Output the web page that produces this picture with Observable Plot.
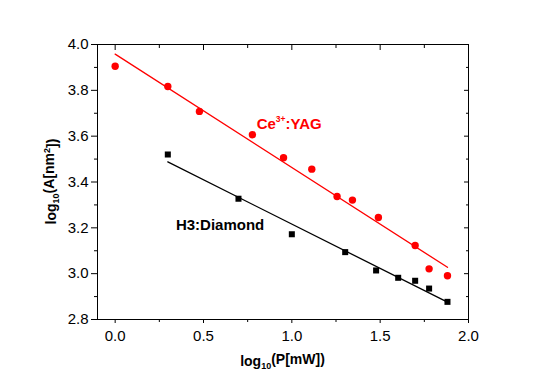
<!DOCTYPE html>
<html><head><meta charset="utf-8">
<script src="https://cdn.jsdelivr.net/npm/d3@7"></script>
<script src="https://cdn.jsdelivr.net/npm/@observablehq/plot@0.6"></script>
<style>body{margin:0;background:#fff}</style>
</head><body><div id="chart"></div>
<script>
// Ce3+:YAG (red circles)
const yagX = [0.0, 0.298, 0.477, 0.777, 0.953, 1.113, 1.256, 1.343, 1.490, 1.698, 1.777, 1.881];
const yagY = [3.905, 3.817, 3.708, 3.606, 3.506, 3.456, 3.337, 3.321, 3.245, 3.123, 3.021, 2.991];
// H3:Diamond (black squares)
const h3X = [0.298, 0.698, 1.000, 1.302, 1.477, 1.602, 1.698, 1.777, 1.881];
const h3Y = [3.520, 3.327, 3.172, 3.094, 3.014, 2.982, 2.969, 2.935, 2.877];
// ticks
const xMajor = [0, 0.5, 1.0, 1.5, 2.0];
const xMinor = [0.25, 0.75, 1.25, 1.75];
const yMajor = [2.8, 3.0, 3.2, 3.4, 3.6, 3.8, 4.0];
const yMinor = [2.9, 3.1, 3.3, 3.5, 3.7, 3.9];
// annotations
const labelText = ["Ce3+:YAG", "H3:Diamond"];
const labelX = [0.985, 0.594];
const labelY = [3.651, 3.21];
const labelColor = ["#ff0000", "#000000"];

const yag = yagX.map((x, i) => ({x, y: yagY[i]}));
const h3 = h3X.map((x, i) => ({x, y: h3Y[i]}));
const labels = labelText.map((t, i) => ({t, x: labelX[i], y: labelY[i], c: labelColor[i]}));
const blank = () => "";
const fmt = d3.format(".1f");

const chart = Plot.plot({
  width: 545, height: 383,
  marginLeft: 97, marginRight: 77, marginTop: 44, marginBottom: 64,
  style: {fontFamily: "'Liberation Sans', Arial, sans-serif", fontSize: "13px", background: "#fff", color: "#000"},
  x: {domain: [-0.1, 2.0]},
  y: {domain: [2.8, 4.0]},
  marks: [
    Plot.axisX(xMajor, {anchor: "bottom", tickSize: 4, tickPadding: 7, tickFormat: fmt, label: null, fontSize: 15}),
    Plot.axisX(xMinor, {anchor: "bottom", tickSize: 3, tickFormat: blank, label: null}),
    Plot.axisX(xMajor, {anchor: "top", tickSize: -5, tickFormat: blank, label: null}),
    Plot.axisX(xMinor, {anchor: "top", tickSize: -3, tickFormat: blank, label: null}),
    Plot.axisY(yMajor, {anchor: "left", tickSize: 6, tickPadding: 3, tickFormat: fmt, label: null, fontSize: 15}),
    Plot.axisY(yMinor, {anchor: "left", tickSize: 3, tickFormat: blank, label: null}),
    Plot.axisY(yMajor, {anchor: "right", tickSize: -5, tickFormat: blank, label: null}),
    Plot.axisY(yMinor, {anchor: "right", tickSize: -3, tickFormat: blank, label: null}),
    Plot.frame({stroke: "#000", strokeWidth: 1}),
    Plot.linearRegressionY(yag, {x: "x", y: "y", stroke: "#ff0000", strokeWidth: 1.3, ci: 0}),
    Plot.linearRegressionY(h3, {x: "x", y: "y", stroke: "#000", strokeWidth: 1.3, ci: 0}),
    Plot.dot(yag, {x: "x", y: "y", r: 3.7, fill: "#ff0000", stroke: "none"}),
    Plot.dot(h3, {x: "x", y: "y", r: 3.4, symbol: "square", fill: "#000", stroke: "none"}),
    Plot.text(labels, {x: "x", y: "y", text: "t", fill: "c", fontSize: 15, fontWeight: "bold"})
  ]
});

const svg = d3.select(chart);
// superscript in annotation
svg.selectAll("text").filter(function() { return this.textContent === "Ce3+:YAG"; })
  .each(function() {
    const t = d3.select(this);
    t.text(null);
    t.append("tspan").text("Ce");
    t.append("tspan").attr("dy", "-7px").attr("font-size", "8.5px").text("3+");
    t.append("tspan").attr("dy", "7px").text(":YAG");
  });
// axis labels
const xl = svg.append("text").attr("x", 282.5).attr("y", 366).attr("text-anchor", "middle")
  .attr("font-weight", "bold").attr("font-size", 14).attr("fill", "#000");
xl.append("tspan").text("log");
xl.append("tspan").attr("dy", "0.35em").attr("font-size", "9px").text("10");
xl.append("tspan").attr("dy", "-0.35em").text("(P[mW])");
const yl = svg.append("text").attr("transform", "translate(56,181.5) rotate(-90)").attr("text-anchor", "middle")
  .attr("font-weight", "bold").attr("font-size", 14).attr("fill", "#000");
yl.append("tspan").text("log");
yl.append("tspan").attr("dy", "0.35em").attr("font-size", "9px").text("10");
yl.append("tspan").attr("dy", "-0.35em").text("(A[nm");
yl.append("tspan").attr("dy", "-0.5em").attr("font-size", "9px").text("2");
yl.append("tspan").attr("dy", "0.5em").text("])");

document.getElementById("chart").appendChild(chart);
</script>
</body></html>
